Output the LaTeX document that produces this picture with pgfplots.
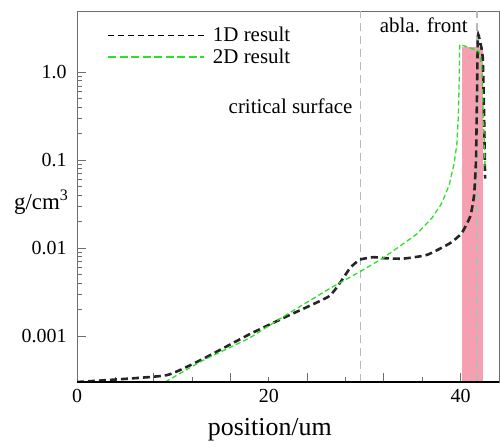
\documentclass[border=0pt]{standalone}
\usepackage{pgfplots}
\pgfplotsset{compat=1.18}
\usepackage{fontspec}
\setmainfont{Liberation Serif}
\newfontfamily\tnr{Liberation Serif}
\definecolor{gline}{RGB}{40,225,40}
\definecolor{band}{RGB}{244,160,176}
\definecolor{axgray}{RGB}{110,110,110}
\definecolor{vline}{RGB}{185,185,185}
\begin{document}
\begin{tikzpicture}
\useasboundingbox (0,0) rectangle (500bp,448bp);
\begin{axis}[
  at={(77bp,66bp)}, anchor=south west,
  width=422bp, height=371bp, scale only axis,
  ymode=log,
  xmin=0, xmax=44, ymin=3e-4, ymax=5,
  axis line style={axgray, line width=1bp},
  tick style={axgray, line width=1bp},
  tick align=inside,
  xtick pos=bottom, ytick pos=left,
  xtick={0,8,16,24,32,40}, xticklabels={},
  minor xtick={4,12,20,28,36},
  extra x ticks={0,20,40}, extra x tick labels={{\tnr 0},{\tnr 20},{\tnr 40}},
  extra x tick style={major tick length=0pt},
  major tick length=9bp, minor tick length=5bp,
  ytick={0.001,0.01,0.1,1}, yticklabels={{\tnr 0.001},{\tnr 0.01},{\tnr 0.1},{\tnr 1.0}},
  ticklabel style={font=\tnr\fontsize{20}{24}\selectfont},
  yticklabel style={xshift=-7bp},
  xticklabel style={yshift=-4bp},
  xlabel={\tnr position/um},
  xlabel style={font=\tnr\fontsize{26}{30}\selectfont, at={(axis description cs:0.457,-0.143)}, anchor=base},
  ylabel={\tnr g/cm\textsuperscript{3}},
  ylabel style={font=\tnr\fontsize{23}{27}\selectfont, rotate=-90, at={(axis description cs:-0.012,0.465)}, anchor=base east},
  legend style={draw=none, fill=none, at={(axis description cs:0.071,0.96)}, anchor=north west,
    font=\tnr\fontsize{21}{25}\selectfont, row sep=4bp, inner sep=0pt,
    nodes={inner sep=1bp}, /tikz/every odd column/.style={column sep=7bp}},
  legend cell align=left,
]
% pink band
\addplot[fill=band, draw=none, forget plot] coordinates {(40.1,3e-4) (40.1,1.95) (42.35,1.95) (42.35,3e-4)} -- cycle;
% vertical reference lines
\addplot[vline, line width=1.2bp, dash pattern=on 8bp off 5bp, forget plot] coordinates {(29.6,3e-4) (29.6,5)};
\addplot[vline, line width=1.2bp, dash pattern=on 8bp off 5bp, forget plot] coordinates {(41.7,3e-4) (41.7,5)};
% 1D result
\addplot[black!85, line width=2.6bp, dash pattern=on 7bp off 4bp, smooth, tension=0.3, forget plot] coordinates {
(0,0.0003) (4,0.00032) (9.4,0.00036) (13,0.00054) (18,0.00105) (22,0.0017) (26.2,0.0028)
(27.4,0.004) (28.5,0.006) (29.5,0.0074) (30.9,0.0079) (32,0.0077) (34,0.0076) (36.5,0.0084)
(38.9,0.0114) (40.1,0.0148) (41.0,0.023) (41.4,0.04) (41.6,0.1) (41.7,0.5) (41.8,2.6)
(42.0,2.3) (42.3,1.5) (42.45,0.3) (42.55,0.062)};
% 2D result
\addplot[gline, line width=1.3bp, dash pattern=on 5bp off 3bp, forget plot] coordinates {
(9.2,0.0003) (13,0.00052) (18,0.00095) (21.5,0.00166) (26.4,0.0035) (29.5,0.0054) (31.9,0.0077)
(35.4,0.0144) (37,0.022) (38,0.032) (38.8,0.052) (39.3,0.09) (39.6,0.15) (39.75,0.3)
(39.85,0.8) (39.9,2.09) (41.9,1.75) (42.2,1.2) (42.3,0.54) (42.55,0.08)};
% legend entries
\addlegendimage{legend image code/.code={\draw[black, line width=1bp, dash pattern=on 6bp off 4bp] (0bp,0bp) -- (96bp,0bp);}}
\addlegendentry{\tnr 1D result}
\addlegendimage{legend image code/.code={\draw[gline, line width=1.8bp, dash pattern=on 8bp off 3.5bp] (0bp,0bp) -- (96bp,0bp);}}
\addlegendentry{\tnr 2D result}
\node[anchor=base east, font=\tnr\fontsize{21}{25}\selectfont] at (axis description cs:0.661,0.725) {critical surface};
\node[anchor=base east, font=\tnr\fontsize{21}{25}\selectfont] at (axis description cs:0.934,0.943) {abla. front};
\end{axis}
\draw[black, line width=1.5bp] (77bp,66bp) -- (499bp,66bp);
\end{tikzpicture}
\end{document}
